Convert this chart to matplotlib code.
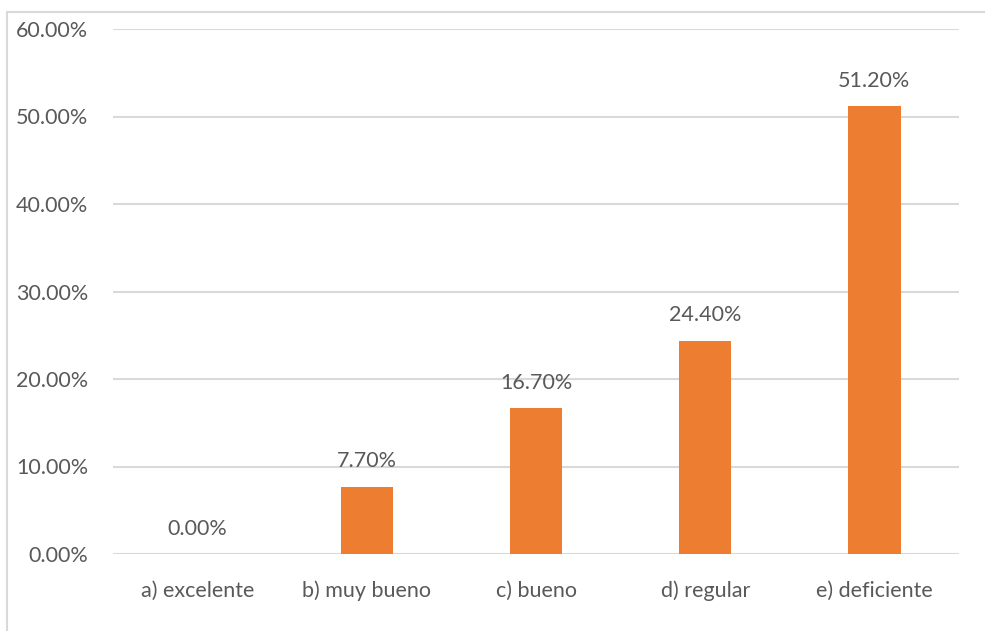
import matplotlib.pyplot as plt
from matplotlib.patches import Rectangle
from matplotlib.ticker import FuncFormatter

categories = ['a) excelente', 'b) muy bueno', 'c) bueno', 'd) regular', 'e) deficiente']
values = [0.00, 7.70, 16.70, 24.40, 51.20]
yticks = [0, 10, 20, 30, 40, 50, 60]

bar_color = '#ED7D31'
text_color = '#595959'
grid_color = '#D9D9D9'

plt.rcParams['font.family'] = ['Lato', 'DejaVu Sans']

fig = plt.figure(figsize=(9.85, 6.31), dpi=100)
ax = fig.add_axes([113 / 985, 1 - 554 / 631, 846 / 985, 525 / 631])

x = list(range(len(categories)))
ax.bar(x, values, width=0.31, color=bar_color, zorder=3)

for xi, v in zip(x, values):
    ax.annotate(f'{v:.2f}%', (xi, v), xytext=(0, 11), textcoords='offset points',
                ha='center', va='bottom', fontsize=15.5, color=text_color)

ax.set_xlim(-0.5, len(categories) - 0.5)
ax.set_ylim(0, 60)
ax.set_yticks(yticks)
ax.yaxis.set_major_formatter(FuncFormatter(lambda v, p: f'{v:.2f}%'))
ax.set_xticks(x)
ax.set_xticklabels(categories)
ax.tick_params(axis='both', length=0, labelsize=15.5, labelcolor=text_color)
ax.tick_params(axis='y', pad=18)
ax.tick_params(axis='x', pad=19)
ax.grid(axis='y', color=grid_color, linewidth=1.5, zorder=0)
for s in ax.spines.values():
    s.set_visible(False)

# chart border (partly cropped in the original)
fig.patches.append(Rectangle((7 / 985, -0.1), 1.1, 1 - 12 / 631 + 0.1,
                             transform=fig.transFigure, fill=False,
                             edgecolor=grid_color, linewidth=1.5))

plt.savefig('out.png', dpi=100)
